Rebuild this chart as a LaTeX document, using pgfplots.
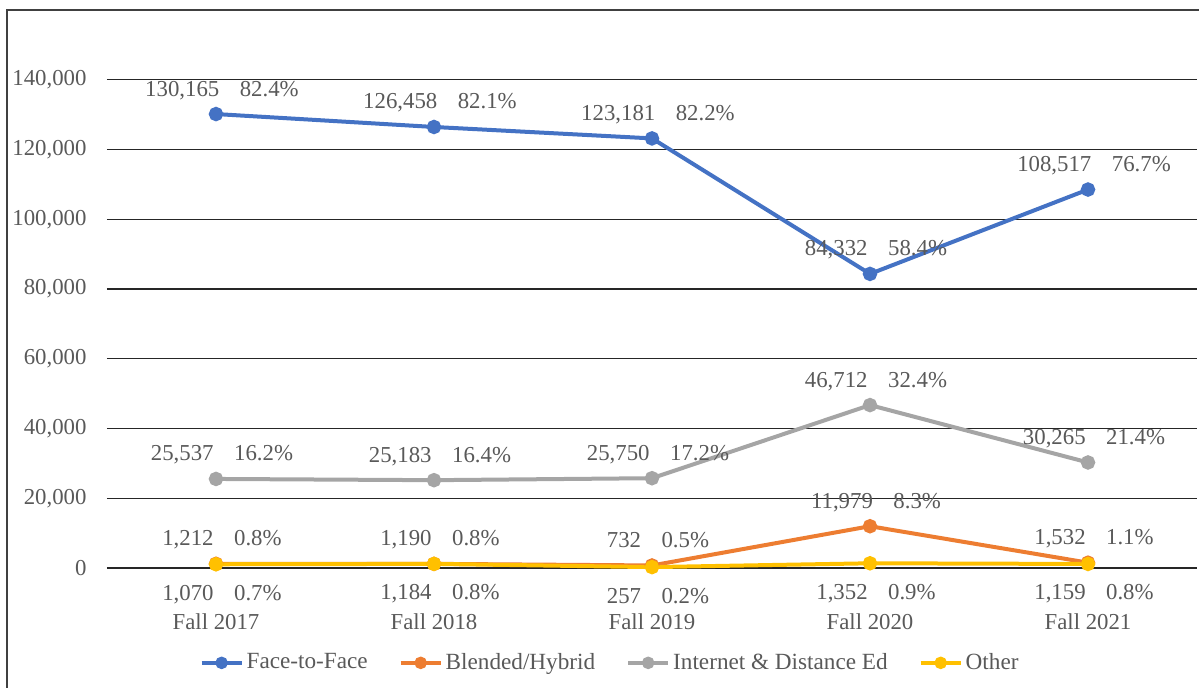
\documentclass[border=0pt]{standalone}
\usepackage{fontspec}
\setmainfont{Liberation Serif}
\usepackage{pgfplots}
\pgfplotsset{compat=1.18}
\definecolor{cF}{HTML}{4472C4}
\definecolor{cB}{HTML}{ED7D31}
\definecolor{cI}{HTML}{A5A5A5}
\definecolor{cO}{HTML}{FFC000}
\definecolor{txt}{HTML}{595959}
\begin{document}
\begin{tikzpicture}[x=1pt,y=1pt]
\useasboundingbox (0,0) rectangle (599.5,343.5);
\begin{scope}
\clip (0,0) rectangle (599.5,343.5);
\draw[black!75, line width=0.8pt] (3.5,-10) rectangle (620,338.5);
\end{scope}
\begin{axis}[
  at={(53.5pt,59.5pt)}, anchor=south west,
  scale only axis, width=545pt, height=279pt,
  xmin=-0.5, xmax=4.5, ymin=0, ymax=160000,
  xtick={0,1,2,3,4},
  xticklabels={Fall 2017,Fall 2018,Fall 2019,Fall 2020,Fall 2021},
  ytick={0,20000,40000,60000,80000,100000,120000,140000},
  yticklabels={0,{20,000},{40,000},{60,000},{80,000},{100,000},{120,000},{140,000}},
  scaled y ticks=false,
  axis line style={draw=none},
  major tick length=0pt,
  ymajorgrids, grid style={black!85, line width=0.6pt},
  tick label style={font=\fontsize{11.4}{13}\selectfont, text=txt},
  yticklabel style={anchor=east, xshift=-6.7pt},
  xticklabel style={anchor=base, yshift=-30.5pt},
  clip=false,
  point meta=explicit symbolic,
  nodes near coords,
  every node near coord/.append style={font=\fontsize{11.4}{13}\selectfont, text=txt, anchor=base, yshift=9pt, xshift=3pt},
  every axis plot/.append style={line width=2pt, mark=*, mark size=2.6pt},
  legend image code/.code={\draw[mark repeat=2,mark phase=2, mark size=2.1pt] plot coordinates {(0pt,0pt)(10pt,0pt)(20pt,0pt)};},
  legend style={draw=none, fill=none, legend columns=4, at={(0.462,-0.170)}, anchor=center,
    font=\fontsize{11.6}{13}\selectfont, text=txt,
    /tikz/every even column/.append style={column sep=14pt},
    inner xsep=0pt, inner ysep=0pt, nodes={inner xsep=1.5pt}},
  legend cell align=left,
]
\addplot[cF, mark options={solid, fill=cF}] coordinates {
 (0,130165) [130,165\hspace{0.9em}82.4\%]
 (1,126458) [126,458\hspace{0.9em}82.1\%]
 (2,123181) [123,181\hspace{0.9em}82.2\%]
 (3,84332) [84,332\hspace{0.9em}58.4\%]
 (4,108517) [108,517\hspace{0.9em}76.7\%]
};
\addlegendentry{Face-to-Face}
\addplot[cB, mark options={solid, fill=cB}] coordinates {
 (0,1212) [1,212\hspace{0.9em}0.8\%]
 (1,1190) [1,190\hspace{0.9em}0.8\%]
 (2,732) [732\hspace{0.9em}0.5\%]
 (3,11979) [11,979\hspace{0.9em}8.3\%]
 (4,1532) [1,532\hspace{0.9em}1.1\%]
};
\addlegendentry{Blended/Hybrid}
\addplot[cI, mark options={solid, fill=cI}] coordinates {
 (0,25537) [25,537\hspace{0.9em}16.2\%]
 (1,25183) [25,183\hspace{0.9em}16.4\%]
 (2,25750) [25,750\hspace{0.9em}17.2\%]
 (3,46712) [46,712\hspace{0.9em}32.4\%]
 (4,30265) [30,265\hspace{0.9em}21.4\%]
};
\addlegendentry{Internet \& Distance Ed}
\addplot[cO, mark options={solid, fill=cO}, every node near coord/.append style={yshift=-27pt}] coordinates {
 (0,1070) [1,070\hspace{0.9em}0.7\%]
 (1,1184) [1,184\hspace{0.9em}0.8\%]
 (2,257) [257\hspace{0.9em}0.2\%]
 (3,1352) [1,352\hspace{0.9em}0.9\%]
 (4,1159) [1,159\hspace{0.9em}0.8\%]
};
\addlegendentry{Other}
\end{axis}
\end{tikzpicture}
\end{document}
